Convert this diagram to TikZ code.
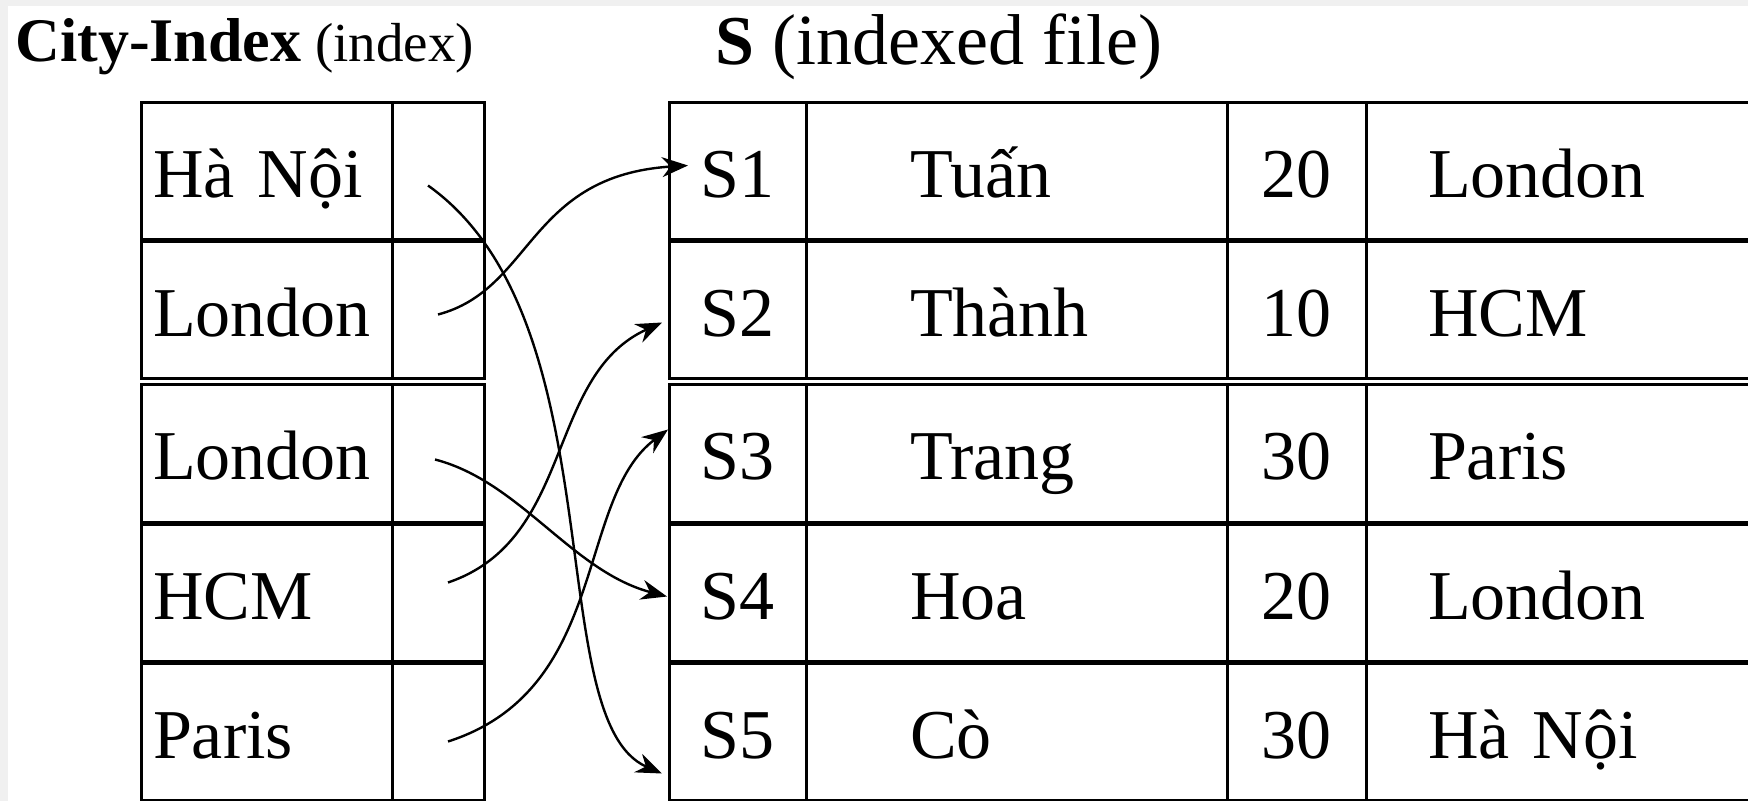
\documentclass[tikz,border=0pt]{standalone}
\usepackage{fontspec}
\setmainfont{Liberation Serif}
\usetikzlibrary{arrows.meta,positioning}

\begin{document}
\begin{tikzpicture}[
  x=0.5pt, y=-0.5pt,
  cell/.style={rectangle, draw, line width=1.5pt, outer sep=0pt, inner sep=0pt,
    minimum height=68.5pt, text height=30pt, text depth=3.5pt,
    font=\fontsize{35pt}{40pt}\selectfont},
  keycell/.style={cell, minimum width=125.5pt, inner xsep=6pt, text width=113.5pt, align=left},
  ptrcell/.style={cell, minimum width=46pt},
  idcell/.style={cell, minimum width=68.5pt},
  namecell/.style={cell, minimum width=210.5pt, inner xsep=52pt, text width=106.5pt, align=left},
  agecell/.style={cell, minimum width=69.5pt},
  citycell/.style={cell, minimum width=212pt, inner xsep=31pt, text width=150pt, align=left},
  link/.style={-{Stealth[length=13pt,width=10pt]}, line width=1.2pt}
]
\useasboundingbox (0,0) rectangle (1748,801);
\clip (0,0) rectangle (1748,801);
\fill[black!6] (0,0) rectangle (1748,801);
\fill[white] (8,6) rectangle (1748,801);

% titles
\node[anchor=base west, inner sep=0pt] (ititle) at (15,62)
  {{\fontsize{31pt}{36pt}\selectfont\bfseries City-Index}{\fontsize{27.5pt}{32pt}\selectfont\ (index)}};
\node[anchor=base west, inner sep=0pt] (stitle) at (715,65)
  {{\fontsize{35pt}{40pt}\selectfont\bfseries S}{\fontsize{36pt}{40pt}\selectfont\ (indexed file)}};

% City-Index
\node[keycell, anchor=north west] (k1) at (141,103) {Hà Nội};
\node[ptrcell, right=0pt of k1] (p1) {};
\node[keycell, below=1pt of k1] (k2) {London};
\node[ptrcell, right=0pt of k2] (p2) {};
\node[keycell, below=3pt of k2] (k3) {London};
\node[ptrcell, right=0pt of k3] (p3) {};
\node[keycell, below=1pt of k3] (k4) {HCM};
\node[ptrcell, right=0pt of k4] (p4) {};
\node[keycell, below=1pt of k4] (k5) {Paris};
\node[ptrcell, right=0pt of k5] (p5) {};

% S
\node[idcell, right=92.5pt of p1] (s1) {S1};
\node[namecell, right=0pt of s1] (n1) {Tuấn};
\node[agecell, right=0pt of n1] (a1) {20};
\node[citycell, right=0pt of a1] (c1) {London};
\node[idcell, below=1pt of s1] (s2) {S2};
\node[namecell, right=0pt of s2] (n2) {Thành};
\node[agecell, right=0pt of n2] (a2) {10};
\node[citycell, right=0pt of a2] (c2) {HCM};
\node[idcell, below=3pt of s2] (s3) {S3};
\node[namecell, right=0pt of s3] (n3) {Trang};
\node[agecell, right=0pt of n3] (a3) {30};
\node[citycell, right=0pt of a3] (c3) {Paris};
\node[idcell, below=1pt of s3] (s4) {S4};
\node[namecell, right=0pt of s4] (n4) {Hoa};
\node[agecell, right=0pt of n4] (a4) {20};
\node[citycell, right=0pt of a4] (c4) {London};
\node[idcell, below=1pt of s4] (s5) {S5};
\node[namecell, right=0pt of s5] (n5) {Cò};
\node[agecell, right=0pt of n5] (a5) {30};
\node[citycell, right=0pt of a5] (c5) {Hà Nội};

% pointers
\draw[link] ([yshift=-2pt]p2.center) .. controls +(95,-25) and +(-160,10) .. ([xshift=9.5pt,yshift=3pt]s1.west);
\draw[link] ([xshift=-5pt,yshift=-7pt]p1.center) .. controls +(190,135) and +(-122,-53) .. ([xshift=-3.5pt,yshift=-21pt]s5.west);
\draw[link] ([xshift=-1.5pt,yshift=-3pt]p3.center) .. controls +(85,22) and +(-95,-25) .. ([xshift=-1pt,yshift=-2pt]s4.west);
\draw[link] ([xshift=5pt,yshift=5pt]p4.center) .. controls +(127,-43) and +(-117,53) .. ([xshift=-3.5pt,yshift=-6pt]s2.west);
\draw[link] ([xshift=5pt,yshift=-5pt]p5.center) .. controls +(162,-52) and +(-93,70) .. ([xshift=-0.5pt,yshift=12pt]s3.west);
\end{tikzpicture}
\end{document}
